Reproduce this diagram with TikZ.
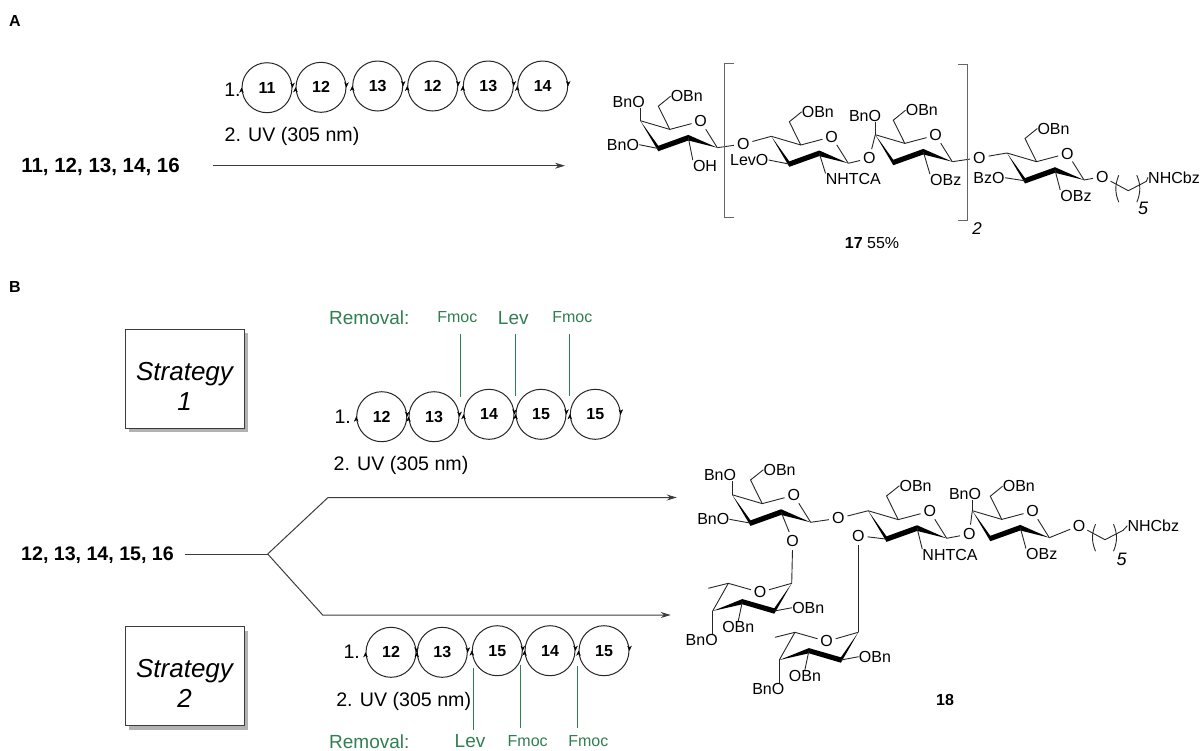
\documentclass[tikz,border=0pt]{standalone}
\usepackage{fontspec}
\setmainfont{Liberation Sans}
\usetikzlibrary{calc,arrows.meta,shapes,shadows,positioning}
\definecolor{rmvgreen}{HTML}{2F7F50}
\definecolor{darkline}{HTML}{3C3C3C}
\tikzset{
  bond/.style={line width=0.9pt,draw=black!85},
  lab/.style={inner sep=0pt,font=\fontsize{16}{18}\selectfont},
  atom/.style={lab,circle,inner sep=0.6pt},
  big/.style={inner sep=0pt,font=\fontsize{19.6}{22}\selectfont},
  panel/.style={inner sep=0pt,font=\fontsize{16}{18}\selectfont\bfseries},
  rmv/.style={inner sep=0pt,font=\fontsize{19}{22}\selectfont,text=rmvgreen},
  fmoc/.style={lab,text=rmvgreen},
  gline/.style={line width=0.95pt,draw=rmvgreen},
  bead/.style={circle,draw=black!85,line width=1pt,minimum size=50pt,inner sep=0pt,font=\fontsize{16}{18}\selectfont\bfseries},
  tip/.style={line width=0.3pt,-{Stealth[length=5pt,width=4.5pt]}},
  route/.style={line width=1pt,draw=darkline},
  bracket/.style={line width=1pt,draw=black!60},
  stratbox/.style={rectangle,draw=darkline,line width=1pt,fill=white,minimum width=119pt,minimum height=99pt,align=center,
    font=\fontsize{26}{30}\selectfont\itshape,drop shadow={shadow xshift=4pt,shadow yshift=-4pt,fill=black!30,opacity=1}},
  chair/.pic={
    \coordinate (-c1) at (0,0);
    \coordinate (-c2) at (-29,-10);
    \coordinate (-c3) at (-59,0.8);
    \coordinate (-c4) at (-77,-27);
    \coordinate (-c5) at (-47.5,-18.3);
    \coordinate (-c6) at (-59,-41.5);
    \node [atom] (-o) at (-16.6,-26.5) {O};
    \node [lab] (-ob) at (-30.5,-51.5) {OBn};
    \fill (-c4) -- (-59,-1.9) -- (-29,-12.8) -- (-c1) -- (-29,-7.2) -- (-59,3.5) -- cycle;
    \draw [bond] (-c4) -- (-c5) -- (-o) -- (-c1);
    \draw [bond] (-c5) -- (-c6) -- (-ob.west);
  },
  fucose/.pic={
    \coordinate (-c1) at (0,0);
    \coordinate (-c2) at (-17.4,27.7);
    \coordinate (-c3) at (-49.4,18.4);
    \coordinate (-c4) at (-79,27.7);
    \coordinate (-c5) at (-63.4,0);
    \coordinate (-me) at (-83.4,5);
    \node [atom] (-o) at (-31.7,9) {O};
    \node [lab] (-n2) at (16.6,24.4) {OBn};
    \node [lab] (-n3) at (-53.4,43.4) {OBn};
    \node [lab] (-n4) at (-90,56.7) {BnO};
    \fill (-c4) -- (-49.4,15.8) -- (-17.4,25) -- (-c1) -- (-17.4,30.4) -- (-49.4,21) -- cycle;
    \draw [bond] (-c1) -- (-o) -- (-c5) -- (-c4);
    \draw [bond] (-c5) -- (-me);
    \draw [bond] (-c2) -- (-n2.west);
    \draw [bond] (-c3) -- (-n3.north);
    \draw [bond] (-c4) -- (-c4 |- -n4.north);
  },
  spacer/.pic={
    \coordinate (-a) at (26,14);
    \coordinate (-b) at (44,4.7);
    \draw [bond] (16.5,-1.5) .. controls (12.5,8) and (12.5,16) .. (16.5,25.5);
    \draw [bond] (34.5,-1.5) .. controls (38.5,8) and (38.5,16) .. (34.5,25.5);
  },
}
\begin{document}
\begin{tikzpicture}[x=1pt,y=-1pt]
  \useasboundingbox (0,0) rectangle (1202,750);

  % panel letters
  \node [panel] (pa) at (15,21) {A};
  \node [panel] (pb) at (15,287) {B};

  % panel A, reagents
  \node [big,font=\fontsize{20.5}{22}\selectfont\bfseries] (sma) at (100.5,167) {11, 12, 13, 14, 16};
  \node [big] (onea) at (232.5,90) {1.};
  \node [big] (uva) at (292,136) {2. UV (305 nm)};
  \coordinate (enda) at (565,165.7);
  \draw [route,-{Stealth[length=10pt,width=6pt]}] (212.7,165.7) -- (enda);
  \foreach \n/\x/\y/\t in {a1/267/87.7/11,a2/321/87.3/12,a3/377.7/86/13,a4/432.7/86/12,a5/488.3/86/13,a6/542.7/86/14,
                           b1/381.7/416.7/12,b2/434/416.7/13,b3/489/414.3/14,b4/541/414.3/15,b5/595.3/414.3/15,
                           c1/391/652.3/12,c2/442.3/652.3/13,c3/497.3/650.7/15,c4/550/650.7/14,c5/604/650.7/15}{
    \node [bead] (\n) at (\x,\y) {\t};
    \draw [tip] (\n.west) ++(0,2) -- ++(0,-2);
    \draw [tip] (\n.east) ++(0,-2) -- ++(0,2);
  }

  % panel A, product
  \pic (ra) at (717.3,147.7) {chair};
  \pic (rb) at (848.3,163.3) {chair};
  \pic (rc) at (952.3,161.7) {chair};
  \pic (rd) at (1084,180) {chair};
  \node [lab] (ra3) at (628.7,101.7) {BnO};
  \node [lab] (ra2) at (623,144.7) {BnO};
  \node [lab] (raoh) at (705,166) {OH};
  \node [lab] (rblev) at (749.3,160) {LevO};
  \node [lab] (rbn) at (853.3,179.3) {NHTCA};
  \node [lab] (rc3) at (865,116) {BnO};
  \node [lab] (rcz) at (945.7,180) {OBz};
  \node [lab] (rd3) at (989,177.7) {BzO};
  \node [lab] (rdz) at (1076,196) {OBz};
  \node [atom] (oa) at (743.3,144) {O};
  \node [atom] (ob) at (869.3,158.3) {O};
  \node [atom] (oc) at (979.3,157.7) {O};
  \node [atom] (od) at (1102.3,176.7) {O};
  \node [lab] (cbza) at (1174,177.3) {NHCbz};
  \node [big,font=\fontsize{18}{20}\selectfont\itshape] (fivea) at (1143,208) {5};
  \pic (sa) at (od) {spacer};
  \path [bond] (ra-c4) edge (ra-c4 |- ra3.south)
        (ra-c3) edge (ra2.east)
        (ra-c2) edge (raoh.north west)
        (ra-c1) edge (oa)
        (oa) edge (rb-c4)
        (rb-c3) edge (rblev.east)
        (rb-c2) edge (rbn.north west)
        (rb-c1) edge (ob)
        (ob) edge (rc-c4)
        (rc-c4) edge (rc-c4 |- rc3.south)
        (rc-c2) edge (rcz.north west)
        (rc-c1) edge (oc)
        (oc) edge (rd-c4)
        (rd-c3) edge (rd3.east)
        (rd-c2) edge (rdz.north west)
        (rd-c1) edge (od);
  \draw [bond] (od) -- (sa-a) -- (sa-b) -- (cbza.west);
  \draw [bracket] (734,63.3) -- (724,63.3) -- (724,217.7) -- (734,217.7);
  \draw [bracket] (958,64.3) -- (967.5,64.3) -- (967.5,220) -- (958,220);
  \node [big,font=\fontsize{17}{20}\selectfont\itshape] (two) at (977,229) {2};
  \node [lab] (yield) at (872,243) {\textbf{17} 55\%};

  % panel B, strategies
  \node [stratbox] (s1) at (184.5,378.8) {\rule{0pt}{33pt}Strategy\\1};
  \node [stratbox] (s2) at (184.5,676) {\rule{0pt}{33pt}Strategy\\2};
  \node [big,font=\fontsize{19.6}{22}\selectfont\bfseries] (smb) at (97.5,555) {12, 13, 14, 15, 16};
  \coordinate (fork) at (267.7,554);
  \draw [route] (185.3,554) -- (fork);
  \draw [route,-{Stealth[length=10pt,width=6pt]}] (fork) -- (328,497.5) -- (676.7,497.5);
  \draw [route,-{Stealth[length=10pt,width=6pt]}] (fork) -- (322.7,615) -- (670.7,615);

  % upper route
  \node [big] (oneb) at (342.7,416.7) {1.};
  \node [big] (uvb) at (401,465) {2. UV (305 nm)};
  \node [rmv] (rmb) at (369.3,318) {Removal:};
  \node [fmoc] (fb1) at (457.3,317.3) {Fmoc};
  \node [rmv] (lb) at (513.3,318) {Lev};
  \node [fmoc] (fb2) at (572.3,317.3) {Fmoc};
  \draw [gline] (460.5,334) -- (460.5,396.7);
  \draw [gline] (515.5,334) -- (515.5,396);
  \draw [gline] (569.5,334) -- (569.5,396);

  % lower route
  \node [big] (onec) at (351.7,651.7) {1.};
  \node [big] (uvc) at (403.7,701.7) {2. UV (305 nm)};
  \node [rmv] (rmc) at (369.3,741.5) {Removal:};
  \node [rmv] (lc) at (470,741.5) {Lev};
  \node [fmoc] (fc1) at (527.7,741.5) {Fmoc};
  \node [fmoc] (fc2) at (588.3,741.5) {Fmoc};
  \draw [gline] (473.5,667.7) -- (473.5,730);
  \draw [gline] (520.5,665) -- (520.5,727.7);
  \draw [gline] (577.5,666) -- (577.5,728);

  % panel B, product
  \pic [scale=1.02] (ma) at (810.7,522.3) {chair};
  \pic [scale=1.02] (mb) at (946.7,538.3) {chair};
  \pic (mc) at (1049.3,537.7) {chair};
  \pic (fa) at (791.7,583.3) {fucose};
  \pic (fb) at (858.3,632.3) {fucose};
  \node [lab] (ma3) at (720,475) {BnO};
  \node [lab] (ma2) at (713.3,519.3) {BnO};
  \node [lab] (mbn) at (950,555) {NHTCA};
  \node [lab] (mc3) at (965,494) {BnO};
  \node [lab] (mcz) at (1041.7,554.3) {OBz};
  \node [atom] (oe) at (838.3,518.3) {O};
  \node [atom] (of) at (792.7,540.7) {O};
  \node [atom] (og) at (858.3,535.7) {O};
  \node [atom] (oh) at (969.3,534) {O};
  \node [atom] (oi) at (1079,525.7) {O};
  \node [lab] (cbzb) at (1153.3,525.7) {NHCbz};
  \node [big,font=\fontsize{18}{20}\selectfont\itshape] (fiveb) at (1121.7,559) {5};
  \pic (sb) at (oi) {spacer};
  \path [bond] (ma-c4) edge (ma-c4 |- ma3.south)
        (ma-c3) edge (ma2.east)
        (ma-c1) edge (oe)
        (oe) edge (mb-c4)
        (ma-c2) edge (of)
        (of) edge (fa-c1)
        (mb-c3) edge (og)
        (og) edge (fb-c1)
        (mb-c2) edge (mbn.north west)
        (mb-c1) edge (oh)
        (oh) edge (mc-c4)
        (mc-c4) edge (mc-c4 |- mc3.south)
        (mc-c2) edge (mcz.north west)
        (mc-c1) edge (oi);
  \draw [bond] (oi) -- (sb-a) -- (sb-b) -- (cbzb.west);
  \node [panel] (nb) at (945,700) {18};
\end{tikzpicture}
\end{document}
